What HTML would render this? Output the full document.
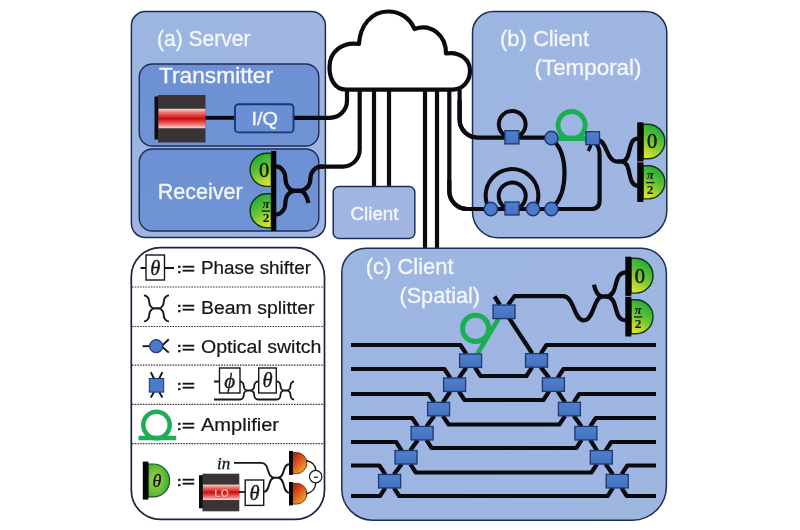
<!DOCTYPE html>
<html lang="en"><head><meta charset="utf-8"><title>Quantum network diagram</title>
<style>
html,body{margin:0;padding:0;background:#fff;}
body{width:800px;height:530px;overflow:hidden;}
svg{display:block;font-family:"Liberation Sans",sans-serif;filter:opacity(1);}
</style></head><body>
<svg width="800" height="530" viewBox="0 0 800 530">
<rect width="800" height="530" fill="#fff"/>
<defs>
<linearGradient id="gbox" x1="0" y1="0" x2="1" y2="1">
<stop offset="0" stop-color="#9db5e1"/><stop offset="1" stop-color="#9fb6e1"/></linearGradient>
<linearGradient id="gin" x1="0" y1="0" x2="0" y2="1">
<stop offset="0" stop-color="#6c90d3"/><stop offset="1" stop-color="#6f93d4"/></linearGradient>
<linearGradient id="gsq" x1="0" y1="0" x2="0" y2="1">
<stop offset="0" stop-color="#4f80cd"/><stop offset="1" stop-color="#4471c0"/></linearGradient>
<linearGradient id="gdet" x1="0.7" y1="0" x2="0.3" y2="1">
<stop offset="0" stop-color="#16a837"/><stop offset="0.45" stop-color="#5cbf38"/><stop offset="1" stop-color="#dde32a"/></linearGradient>
<linearGradient id="gdetl" x1="0.3" y1="0" x2="0.7" y2="1">
<stop offset="0" stop-color="#16a837"/><stop offset="0.45" stop-color="#5cbf38"/><stop offset="1" stop-color="#dde32a"/></linearGradient>
<radialGradient id="grad" cx="0.35" cy="0.5" r="0.75">
<stop offset="0" stop-color="#a6d23a"/><stop offset="0.5" stop-color="#6cbf3a"/><stop offset="1" stop-color="#1f9e3c"/></radialGradient>
<linearGradient id="gor" x1="0.1" y1="0" x2="0.8" y2="1">
<stop offset="0" stop-color="#b01c10"/><stop offset="0.5" stop-color="#e0601c"/><stop offset="1" stop-color="#f6b236"/></linearGradient>
<linearGradient id="gred" x1="0" y1="0" x2="0" y2="1">
<stop offset="0" stop-color="#f7d9d6"/><stop offset="0.18" stop-color="#ee7b78"/><stop offset="0.5" stop-color="#cf0c0c"/><stop offset="0.82" stop-color="#ee7b78"/><stop offset="1" stop-color="#f7d9d6"/></linearGradient>
</defs>
<path d="M374 88 V187" fill="none" stroke="#0a0a10" stroke-width="4.2" stroke-linejoin="round" />
<path d="M389 88 V187" fill="none" stroke="#0a0a10" stroke-width="4.2" stroke-linejoin="round" />
<path d="M425 88 V249" fill="none" stroke="#0a0a10" stroke-width="4.2" stroke-linejoin="round" />
<path d="M437 88 V249" fill="none" stroke="#0a0a10" stroke-width="4.2" stroke-linejoin="round" />
<path d="M449.3 88 V191 A18 18 0 0 0 467.3 209 H486" fill="none" stroke="#0a0a10" stroke-width="4.2" stroke-linejoin="round" />
<path d="M459.6 88 V119.6 A18 18 0 0 0 477.6 137.6 H505" fill="none" stroke="#0a0a10" stroke-width="4.2" stroke-linejoin="round" />
<rect x="131.4" y="11.5" width="194" height="226" rx="14" fill="url(#gbox)" stroke="#1d2d55" stroke-width="1.5"/>
<rect x="139.3" y="64" width="179.5" height="82" rx="13" fill="url(#gin)" stroke="#1d2d55" stroke-width="1.4"/>
<rect x="139.3" y="149" width="179.5" height="82" rx="13" fill="url(#gin)" stroke="#1d2d55" stroke-width="1.4"/>
<text x="157" y="46.2" font-size="22" fill="#f3f6fd" stroke="#f3f6fd" stroke-width="0.35" textLength="93.5" lengthAdjust="spacingAndGlyphs" >(a) Server</text>
<text x="159" y="82.5" font-size="22" fill="#f3f6fd" stroke="#f3f6fd" stroke-width="0.35" textLength="114" lengthAdjust="spacingAndGlyphs" >Transmitter</text>
<text x="157.7" y="199" font-size="22" fill="#f3f6fd" stroke="#f3f6fd" stroke-width="0.35" textLength="85" lengthAdjust="spacingAndGlyphs" >Receiver</text>
<rect x="154.5" y="96.5" width="5" height="43.0" fill="#0d0d12"/>
<rect x="158.0" y="95" width="47.5" height="47.5" fill="#3a3436"/>
<rect x="158.5" y="108.78" width="47" height="19.47" fill="url(#gred)"/>
<path d="M205.5 117.8 H235" fill="none" stroke="#0a0a10" stroke-width="3.9" stroke-linejoin="round" />
<path d="M347 88 V100.8 A17 17 0 0 1 330 117.8 H294" fill="none" stroke="#0a0a10" stroke-width="4.2" stroke-linejoin="round" />
<path d="M359.7 88 V149.6 A17 17 0 0 1 342.7 166.6 H320" fill="none" stroke="#0a0a10" stroke-width="4.2" stroke-linejoin="round" />
<rect x="235" y="104.2" width="58.5" height="28.2" rx="3.5" fill="#6a8fd5" stroke="#1b3776" stroke-width="1.9"/>
<text x="251.5" y="125" font-size="17.6" fill="#f3f6fd" stroke="#f3f6fd" stroke-width="0.35" textLength="26.5" lengthAdjust="spacingAndGlyphs" >I/Q</text>
<path d="M276 166.4 A9.40 12.20 0 0 1 285.40 178.60 A9.40 12.20 0 0 0 294.8 190.8 H299.8 A10.60 12.10 0 0 0 310.40 178.70 A10.60 12.10 0 0 1 321 166.6 H324" fill="none" stroke="#0a0a10" stroke-width="4.2" stroke-linejoin="round" />
<path d="M276 214.5 A9.40 11.85 0 0 0 285.40 202.65 A9.40 11.85 0 0 1 294.8 190.8 H299.8 C305 190.8 307 196.5 308.5 203" fill="none" stroke="#0a0a10" stroke-width="4.2" stroke-linejoin="round" />
<path d="M271.40000000000003 153.2 h-4.70 a16.60 16.60 0 0 0 0 33.20 H271.40000000000003 Z" fill="url(#gdetl)" stroke="#0f3812" stroke-width="1.4"/>
<text x="264.2" y="176.8" font-family="'Liberation Serif', serif" font-size="20.5" fill="#141a06" stroke="#141a06" stroke-width="0.5" text-anchor="middle">0</text>
<path d="M271.40000000000003 193.8 h-4.35 a16.95 16.95 0 0 0 0 33.90 H271.40000000000003 Z" fill="url(#gdetl)" stroke="#0f3812" stroke-width="1.4"/>
<text x="266.0" y="207.6" font-family="'Liberation Serif', serif" font-size="13" font-style="italic" font-weight="bold" fill="#141a06" text-anchor="middle">π</text>
<line x1="261.8" x2="270.2" y1="211.1" y2="211.1" stroke="#141a06" stroke-width="1.3"/>
<text x="266.0" y="222.3" font-family="'Liberation Serif', serif" font-size="13.5" font-weight="bold" fill="#141a06" text-anchor="middle">2</text>
<rect x="271.1" y="151" width="5.20" height="80.00" fill="#050505"/>
<rect x="333.2" y="186.6" width="81.6" height="51.8" rx="5.5" fill="#a0b5e2" stroke="#1d2d55" stroke-width="1.5"/>
<text x="350.5" y="219.5" font-size="18.3" fill="#f3f6fd" stroke="#f3f6fd" stroke-width="0.35" textLength="48" lengthAdjust="spacingAndGlyphs" >Client</text>
<path d="M493.5 11.5 H645.8 A21 21 0 0 1 666.8 32.5 V210.8 A27 27 0 0 1 639.8 237.8 H498.5 A26 26 0 0 1 472.5 211.8 V32.5 A21 21 0 0 1 493.5 11.5 Z" fill="url(#gbox)" stroke="#1d2d55" stroke-width="1.5"/>
<text x="500" y="45.5" font-size="22" fill="#f3f6fd" stroke="#f3f6fd" stroke-width="0.35" textLength="89" lengthAdjust="spacingAndGlyphs" >(b) Client</text>
<text x="534.5" y="74.8" font-size="22" fill="#f3f6fd" stroke="#f3f6fd" stroke-width="0.35" textLength="107" lengthAdjust="spacingAndGlyphs" >(Temporal)</text>
<path d="M459.6 100 V119.6 A18 18 0 0 0 477.6 137.6 H551" fill="none" stroke="#0a0a10" stroke-width="4.2" stroke-linejoin="round" />
<path d="M449.3 180 V191 A18 18 0 0 0 467.3 209 H591 Q599.6 209 599.6 200.5 V155 Q599.6 147 595.5 143.5" fill="none" stroke="#0a0a10" stroke-width="4.2" stroke-linejoin="round" />
<circle cx="512.2" cy="124.3" r="13.4" fill="none" stroke="#0a0a10" stroke-width="4"/>
<circle cx="512.2" cy="196" r="13.5" fill="none" stroke="#0a0a10" stroke-width="4"/>
<path d="M489.5 209 A26.3 26.3 0 1 1 534.5 209" fill="none" stroke="#0a0a10" stroke-width="4"/>
<path d="M554 141 C568 155 568 191 554 206" fill="none" stroke="#0a0a10" stroke-width="4.2" stroke-linejoin="round" />
<circle cx="571.6" cy="125.1" r="13.6" fill="none" stroke="#1dad56" stroke-width="4.8"/>
<path d="M557 138.3 H587" stroke="#1dad56" stroke-width="5.4" fill="none"/>
<path d="M598 140 C606.5 140 606.5 161.5 617 161.5 H621 C632.90 161.5 626.10 138.5 638 138.5" fill="none" stroke="#0a0a10" stroke-width="4.2" stroke-linejoin="round" />
<path d="M617 161.5 H621 C632.90 161.5 626.10 185.8 638 185.8" fill="none" stroke="#0a0a10" stroke-width="4.2" stroke-linejoin="round" />
<path d="M591 145 L588.3 151" fill="none" stroke="#0a0a10" stroke-width="3.4" stroke-linejoin="round" />
<rect x="504.90" y="130.70" width="14" height="13.2" fill="url(#gsq)" stroke="#1c3872" stroke-width="1.3"/>
<rect x="505.00" y="202.00" width="14" height="13" fill="url(#gsq)" stroke="#1c3872" stroke-width="1.3"/>
<circle cx="551.4" cy="138" r="6.7" fill="#4a7ac8" stroke="#1c3872" stroke-width="1.4"/>
<circle cx="490.8" cy="209" r="6.7" fill="#4a7ac8" stroke="#1c3872" stroke-width="1.4"/>
<circle cx="533" cy="209" r="6.7" fill="#4a7ac8" stroke="#1c3872" stroke-width="1.4"/>
<circle cx="551.4" cy="209" r="6.7" fill="#4a7ac8" stroke="#1c3872" stroke-width="1.4"/>
<rect x="585.90" y="131.70" width="13.6" height="13" fill="url(#gsq)" stroke="#1c3872" stroke-width="1.3"/>
<path d="M643.1 124.2 h4.55 a17.25 17.25 0 0 1 0 34.50 H643.1 Z" fill="url(#gdet)" stroke="#0f3812" stroke-width="1.4"/>
<text x="652.0" y="148.4" font-family="'Liberation Serif', serif" font-size="20.5" fill="#141a06" stroke="#141a06" stroke-width="0.5" text-anchor="middle">0</text>
<path d="M643.1 165.7 h5.20 a16.60 16.60 0 0 1 0 33.20 H643.1 Z" fill="url(#gdet)" stroke="#0f3812" stroke-width="1.4"/>
<text x="650.2" y="179.1" font-family="'Liberation Serif', serif" font-size="13" font-style="italic" font-weight="bold" fill="#141a06" text-anchor="middle">π</text>
<line x1="646.0" x2="654.4" y1="182.6" y2="182.6" stroke="#141a06" stroke-width="1.3"/>
<text x="650.2" y="193.9" font-family="'Liberation Serif', serif" font-size="13.5" font-weight="bold" fill="#141a06" text-anchor="middle">2</text>
<rect x="637.2" y="122.3" width="6.20" height="79.60" fill="#050505"/>
<rect x="637.2" y="161.50" width="6.20" height="0.8" fill="#b9c3d8"/>
<rect x="131.3" y="247.6" width="193.2" height="271.7" rx="29" fill="#fff" stroke="#1b2540" stroke-width="1.7"/>
<line x1="132" x2="324" y1="287" y2="287" stroke="#3a3a3a" stroke-width="1.1" stroke-dasharray="1.6 1.1"/>
<line x1="132" x2="324" y1="326.5" y2="326.5" stroke="#3a3a3a" stroke-width="1.1" stroke-dasharray="1.6 1.1"/>
<line x1="132" x2="324" y1="365.1" y2="365.1" stroke="#3a3a3a" stroke-width="1.1" stroke-dasharray="1.6 1.1"/>
<line x1="132" x2="324" y1="404.4" y2="404.4" stroke="#3a3a3a" stroke-width="1.1" stroke-dasharray="1.6 1.1"/>
<line x1="132" x2="324" y1="443.6" y2="443.6" stroke="#3a3a3a" stroke-width="1.1" stroke-dasharray="1.6 1.1"/>
<path d="M140.5 268 H146 M164.5 268 H174" fill="none" stroke="#161616" stroke-width="1.8" stroke-linejoin="round" />
<rect x="146" y="255" width="18.5" height="25" fill="#fff" stroke="#161616" stroke-width="1.4"/>
<text x="155.4" y="274.6" font-family="'Liberation Serif', serif" font-style="italic" font-size="20.5" fill="#161616" stroke="#161616" stroke-width="0.35" text-anchor="middle">θ</text>
<text fill="#161616" stroke="#161616"><tspan x="177.1" y="272.6" font-size="13.3" font-weight="bold" stroke-width="0.5">:</tspan><tspan x="182" y="273.6" font-size="15.8" stroke-width="0.7" textLength="12.9" lengthAdjust="spacingAndGlyphs">=</tspan></text>
<text x="201" y="274.2" font-size="18" fill="#161616" stroke="#161616" stroke-width="0.2" textLength="110" lengthAdjust="spacingAndGlyphs" >Phase shifter</text>
<path d="M143.9 295.4 A5.35 6.50 0 0 1 149.25 301.90 A5.35 6.50 0 0 0 154.6 308.4 H158.4 A5.30 6.50 0 0 0 163.70 301.90 A5.30 6.50 0 0 1 169 295.4" fill="none" stroke="#161616" stroke-width="1.9" stroke-linejoin="round" />
<path d="M143.9 321.4 A5.35 6.50 0 0 0 149.25 314.90 A5.35 6.50 0 0 1 154.6 308.4 H158.4 A5.30 6.50 0 0 1 163.70 314.90 A5.30 6.50 0 0 0 169 321.4" fill="none" stroke="#161616" stroke-width="1.9" stroke-linejoin="round" />
<text fill="#161616" stroke="#161616"><tspan x="177.1" y="312.1" font-size="13.3" font-weight="bold" stroke-width="0.5">:</tspan><tspan x="182" y="313.1" font-size="15.8" stroke-width="0.7" textLength="12.9" lengthAdjust="spacingAndGlyphs">=</tspan></text>
<text x="201" y="313.8" font-size="18" fill="#161616" stroke="#161616" stroke-width="0.2" textLength="113.5" lengthAdjust="spacingAndGlyphs" >Beam splitter</text>
<path d="M142.6 346.2 H152" fill="none" stroke="#161616" stroke-width="1.9" stroke-linejoin="round" />
<path d="M168.8 339.2 L161.5 346.2 L168.8 352.6" fill="none" stroke="#161616" stroke-width="1.9" stroke-linejoin="round" />
<circle cx="156.2" cy="346.2" r="6.5" fill="#4a7ac8" stroke="#1c3872" stroke-width="1.2"/>
<text fill="#161616" stroke="#161616"><tspan x="177.1" y="351.9" font-size="13.3" font-weight="bold" stroke-width="0.5">:</tspan><tspan x="182" y="352.9" font-size="15.8" stroke-width="0.7" textLength="12.9" lengthAdjust="spacingAndGlyphs">=</tspan></text>
<text x="201" y="352.7" font-size="18" fill="#161616" stroke="#161616" stroke-width="0.2" textLength="120.5" lengthAdjust="spacingAndGlyphs" >Optical switch</text>
<path d="M150.8 372.3 L154 378.5 M162.4 372.3 L159.2 378.5 M154 392 L150.8 397.5 M159.2 392 L162.4 397.5" fill="none" stroke="#161616" stroke-width="1.9" stroke-linejoin="round" />
<rect x="149.3" y="378.5" width="14.4" height="13.6" fill="#4a7ac8" stroke="#1c3872" stroke-width="1"/>
<text fill="#161616" stroke="#161616"><tspan x="177.1" y="390.1" font-size="13.3" font-weight="bold" stroke-width="0.5">:</tspan><tspan x="182" y="391.1" font-size="15.8" stroke-width="0.7" textLength="12.9" lengthAdjust="spacingAndGlyphs">=</tspan></text>
<path d="M214 381.5 H220 M214 399.5 H240 A3.75 4.50 0 0 0 243.75 395.00 A3.75 4.50 0 0 1 247.5 390.5 H250.5 A3.75 4.50 0 0 0 254.25 386.00 A3.75 4.50 0 0 1 258 381.5 M240 381.5 A3.75 4.50 0 0 1 243.75 386.00 A3.75 4.50 0 0 0 247.5 390.5 H250.5 A3.75 4.50 0 0 1 254.25 395.00 A3.75 4.50 0 0 0 258 399.5 H277 A3.50 4.50 0 0 0 280.50 395.00 A3.50 4.50 0 0 1 284 390.5 H287 A3.50 4.50 0 0 0 290.50 386.00 A3.50 4.50 0 0 1 294 381.5 M277 381.5 A3.50 4.50 0 0 1 280.50 386.00 A3.50 4.50 0 0 0 284 390.5 H287 A3.50 4.50 0 0 1 290.50 395.00 A3.50 4.50 0 0 0 294 399.5" fill="none" stroke="#161616" stroke-width="1.8" stroke-linejoin="round" />
<rect x="219.5" y="368" width="20.5" height="25" fill="#fff" stroke="#161616" stroke-width="1.4"/>
<rect x="258.7" y="368" width="17.6" height="25" fill="#fff" stroke="#161616" stroke-width="1.4"/>
<text x="229.7" y="387.6" font-family="'Liberation Serif', serif" font-style="italic" font-size="21" fill="#161616" stroke="#161616" stroke-width="0.35" text-anchor="middle">ϕ</text>
<text x="267.6" y="387.1" font-family="'Liberation Serif', serif" font-style="italic" font-size="20.5" fill="#161616" stroke="#161616" stroke-width="0.35" text-anchor="middle">θ</text>
<circle cx="156.5" cy="425" r="13.2" fill="none" stroke="#1dad56" stroke-width="4.5"/>
<path d="M138.5 438 H176.2" stroke="#1dad56" stroke-width="4.3" fill="none"/>
<text fill="#161616" stroke="#161616"><tspan x="177.1" y="429.6" font-size="13.3" font-weight="bold" stroke-width="0.5">:</tspan><tspan x="182" y="430.6" font-size="15.8" stroke-width="0.7" textLength="12.9" lengthAdjust="spacingAndGlyphs">=</tspan></text>
<text x="201" y="431.1" font-size="18" fill="#161616" stroke="#161616" stroke-width="0.2" textLength="78" lengthAdjust="spacingAndGlyphs" >Amplifier</text>
<path d="M148 464 h5.2 a16.45 16.45 0 0 1 0 32.9 H148 Z" fill="url(#grad)" stroke="#14531f" stroke-width="1.1"/>
<rect x="142.8" y="461.6" width="5.6" height="38" fill="#050505"/>
<text x="156.8" y="487.2" font-family="'Liberation Serif', serif" font-style="italic" font-size="18" fill="#161616" stroke="#161616" stroke-width="0.35" text-anchor="middle">θ</text>
<text fill="#161616" stroke="#161616"><tspan x="177.1" y="485.6" font-size="13.3" font-weight="bold" stroke-width="0.5">:</tspan><tspan x="182" y="486.6" font-size="15.8" stroke-width="0.7" textLength="12.9" lengthAdjust="spacingAndGlyphs">=</tspan></text>
<rect x="199" y="475.2" width="5" height="33.1" fill="#0d0d12"/>
<rect x="202.5" y="473.7" width="36.8" height="37.6" fill="#3a3436"/>
<rect x="203" y="484.60" width="36.3" height="15.42" fill="url(#gred)"/>
<text x="221.5" y="497.2" font-size="10.8" font-weight="bold" fill="#f4b4ae" stroke="#c01010" stroke-width="0.5" paint-order="stroke" text-anchor="middle" textLength="14.5" lengthAdjust="spacingAndGlyphs">LO</text>
<path d="M239 492 H245" fill="none" stroke="#161616" stroke-width="1.8" stroke-linejoin="round" />
<rect x="245.2" y="480" width="18.5" height="25.4" fill="#fff" stroke="#161616" stroke-width="1.4"/>
<text x="254.6" y="499.6" font-family="'Liberation Serif', serif" font-style="italic" font-size="20.5" fill="#161616" stroke="#161616" stroke-width="0.35" text-anchor="middle">θ</text>
<text x="217" y="468.5" font-family="'Liberation Serif', serif" font-style="italic" font-size="17" fill="#161616" stroke="#161616" stroke-width="0.3">in</text>
<path d="M234 462.9 H261.5 C269.95 462.9 266.05 477.7 274.5 477.7 H278 C285.48 477.7 282.02 464 289.5 464 M263.7 492 C270.72 492 267.48 477.7 274.5 477.7 H278 C285.48 477.7 282.02 492.9 289.5 492.9" fill="none" stroke="#161616" stroke-width="1.9" stroke-linejoin="round" />
<path d="M292.5 452.5 h3.80 a10.60 10.60 0 0 1 0 21.20 H292.5 Z" fill="url(#gor)" stroke="#6a2a10" stroke-width="0.9"/>
<path d="M292.5 483.3 h4.00 a10.40 10.40 0 0 1 0 20.80 H292.5 Z" fill="url(#gor)" stroke="#6a2a10" stroke-width="0.9"/>
<rect x="289" y="450.9" width="3.9" height="24" fill="#050505"/>
<rect x="289" y="482" width="3.9" height="23.4" fill="#050505"/>
<path d="M306 460.5 C311 461.5 315.7 464 315.7 470.5 M306 494 C311 493 315.7 489 315.7 482.8" fill="none" stroke="#161616" stroke-width="1.3" stroke-linejoin="round" />
<circle cx="315.7" cy="476.6" r="6.2" fill="#fff" stroke="#161616" stroke-width="1.2"/>
<path d="M313.8 477.2 H318" fill="none" stroke="#161616" stroke-width="1.2" stroke-linejoin="round" />
<path d="M365.8 248.2 H641.4 A25 25 0 0 1 666.4 273.2 V486.20000000000005 A34 34 0 0 1 632.4 520.2 H372.8 A31 31 0 0 1 341.8 489.20000000000005 V272.2 A24 24 0 0 1 365.8 248.2 Z" fill="url(#gbox)" stroke="#1d2d55" stroke-width="1.5"/>
<text x="365.8" y="274" font-size="22" fill="#f3f6fd" stroke="#f3f6fd" stroke-width="0.35" textLength="87.8" lengthAdjust="spacingAndGlyphs" >(c) Client</text>
<text x="399.5" y="302.8" font-size="22" fill="#f3f6fd" stroke="#f3f6fd" stroke-width="0.35" textLength="80.5" lengthAdjust="spacingAndGlyphs" >(Spatial)</text>
<path d="M351 345 H460.4 L466.3 353.95" fill="none" stroke="#0a0a10" stroke-width="4.2" stroke-linejoin="round" />
<path d="M474.90000000000003 367.45 L480.5 376 H526.4 L532.2 367.15" fill="none" stroke="#0a0a10" stroke-width="4.2" stroke-linejoin="round" />
<path d="M466.3 367.45 L458.90000000000003 377.95" fill="none" stroke="#0a0a10" stroke-width="4.2" stroke-linejoin="round" />
<path d="M351 369 H444.4 L450.3 377.95" fill="none" stroke="#0a0a10" stroke-width="4.2" stroke-linejoin="round" />
<path d="M458.90000000000003 391.45 L464.5 400 H543.4 L549.1 391.35" fill="none" stroke="#0a0a10" stroke-width="4.2" stroke-linejoin="round" />
<path d="M450.3 391.45 L442.90000000000003 402.35" fill="none" stroke="#0a0a10" stroke-width="4.2" stroke-linejoin="round" />
<path d="M351 394 H428.8 L434.3 402.35" fill="none" stroke="#0a0a10" stroke-width="4.2" stroke-linejoin="round" />
<path d="M442.90000000000003 415.85 L448.6 424.5 H559.4 L565.1 415.85" fill="none" stroke="#0a0a10" stroke-width="4.2" stroke-linejoin="round" />
<path d="M434.3 415.85 L426.40000000000003 426.45" fill="none" stroke="#0a0a10" stroke-width="4.2" stroke-linejoin="round" />
<path d="M351 418 H412.2 L417.8 426.45" fill="none" stroke="#0a0a10" stroke-width="4.2" stroke-linejoin="round" />
<path d="M426.40000000000003 439.95 L431.7 448 H576.3 L581.6 439.95" fill="none" stroke="#0a0a10" stroke-width="4.2" stroke-linejoin="round" />
<path d="M417.8 439.95 L410.3 450.55" fill="none" stroke="#0a0a10" stroke-width="4.2" stroke-linejoin="round" />
<path d="M351 442 H396.1 L401.7 450.55" fill="none" stroke="#0a0a10" stroke-width="4.2" stroke-linejoin="round" />
<path d="M410.3 464.05 L415.9 472.5 H591.4 L597.0 464.05" fill="none" stroke="#0a0a10" stroke-width="4.2" stroke-linejoin="round" />
<path d="M401.7 464.05 L393.90000000000003 474.45" fill="none" stroke="#0a0a10" stroke-width="4.2" stroke-linejoin="round" />
<path d="M351 465.5 H379.4 L385.3 474.45" fill="none" stroke="#0a0a10" stroke-width="4.2" stroke-linejoin="round" />
<path d="M393.90000000000003 487.95 L399.2 496 H607.6 L612.9000000000001 487.95" fill="none" stroke="#0a0a10" stroke-width="4.2" stroke-linejoin="round" />
<path d="M385.3 487.95 L380.0 496 H351" fill="none" stroke="#0a0a10" stroke-width="4.2" stroke-linejoin="round" />
<path d="M540.8 353.65 L546.5 345 H656" fill="none" stroke="#0a0a10" stroke-width="4.2" stroke-linejoin="round" />
<path d="M540.8 367.15 L549.1 377.85" fill="none" stroke="#0a0a10" stroke-width="4.2" stroke-linejoin="round" />
<path d="M557.6999999999999 377.85 L563.5 369 H656" fill="none" stroke="#0a0a10" stroke-width="4.2" stroke-linejoin="round" />
<path d="M557.6999999999999 391.35 L565.1 402.35" fill="none" stroke="#0a0a10" stroke-width="4.2" stroke-linejoin="round" />
<path d="M573.6999999999999 402.35 L579.2 394 H656" fill="none" stroke="#0a0a10" stroke-width="4.2" stroke-linejoin="round" />
<path d="M573.6999999999999 415.85 L581.6 426.45" fill="none" stroke="#0a0a10" stroke-width="4.2" stroke-linejoin="round" />
<path d="M590.1999999999999 426.45 L595.8 418 H656" fill="none" stroke="#0a0a10" stroke-width="4.2" stroke-linejoin="round" />
<path d="M590.1999999999999 439.95 L597.0 450.55" fill="none" stroke="#0a0a10" stroke-width="4.2" stroke-linejoin="round" />
<path d="M605.5999999999999 450.55 L611.2 442 H656" fill="none" stroke="#0a0a10" stroke-width="4.2" stroke-linejoin="round" />
<path d="M605.5999999999999 464.05 L612.9000000000001 474.45" fill="none" stroke="#0a0a10" stroke-width="4.2" stroke-linejoin="round" />
<path d="M621.5 474.45 L627.4 465.5 H656" fill="none" stroke="#0a0a10" stroke-width="4.2" stroke-linejoin="round" />
<path d="M621.5 487.95 L626.8 496 H656" fill="none" stroke="#0a0a10" stroke-width="4.2" stroke-linejoin="round" />
<path d="M499 318 L477.5 353.5" fill="none" stroke="#1dad56" stroke-width="4.5" stroke-linejoin="round" stroke-linecap="butt"/>
<circle cx="475.6" cy="328.4" r="13.1" fill="none" stroke="#1dad56" stroke-width="5"/>
<path d="M509 318 L532.3 353.5" fill="none" stroke="#0a0a10" stroke-width="4.2" stroke-linejoin="round" />
<path d="M494.5 296.5 L500 305" fill="none" stroke="#0a0a10" stroke-width="4.2" stroke-linejoin="round" />
<path d="M508 305 L514.5 296.2 H563 C574.5 296.2 573.5 320.4 583.8 320.4 C594 320.4 593.5 296.5 602.5 296.5 H605.5 C619.85 296.5 611.65 272.4 626 272.4" fill="none" stroke="#0a0a10" stroke-width="4.2" stroke-linejoin="round" />
<path d="M594 284.6 C595 291 598.5 296.5 602.5 296.5 H605.5 C619.85 296.5 611.65 320.3 626 320.3" fill="none" stroke="#0a0a10" stroke-width="4.2" stroke-linejoin="round" />
<rect x="493.00" y="305.00" width="22" height="13.6" fill="url(#gsq)" stroke="#1c3872" stroke-width="1.3"/>
<rect x="459.60" y="353.95" width="22" height="13.5" fill="url(#gsq)" stroke="#1c3872" stroke-width="1.3"/>
<rect x="443.60" y="377.95" width="22" height="13.5" fill="url(#gsq)" stroke="#1c3872" stroke-width="1.3"/>
<rect x="427.60" y="402.35" width="22" height="13.5" fill="url(#gsq)" stroke="#1c3872" stroke-width="1.3"/>
<rect x="411.10" y="426.45" width="22" height="13.5" fill="url(#gsq)" stroke="#1c3872" stroke-width="1.3"/>
<rect x="395.00" y="450.55" width="22" height="13.5" fill="url(#gsq)" stroke="#1c3872" stroke-width="1.3"/>
<rect x="378.60" y="474.45" width="22" height="13.5" fill="url(#gsq)" stroke="#1c3872" stroke-width="1.3"/>
<rect x="525.50" y="353.65" width="22" height="13.5" fill="url(#gsq)" stroke="#1c3872" stroke-width="1.3"/>
<rect x="542.40" y="377.85" width="22" height="13.5" fill="url(#gsq)" stroke="#1c3872" stroke-width="1.3"/>
<rect x="558.40" y="402.35" width="22" height="13.5" fill="url(#gsq)" stroke="#1c3872" stroke-width="1.3"/>
<rect x="574.90" y="426.45" width="22" height="13.5" fill="url(#gsq)" stroke="#1c3872" stroke-width="1.3"/>
<rect x="590.30" y="450.55" width="22" height="13.5" fill="url(#gsq)" stroke="#1c3872" stroke-width="1.3"/>
<rect x="606.20" y="474.45" width="22" height="13.5" fill="url(#gsq)" stroke="#1c3872" stroke-width="1.3"/>
<path d="M631.0 258.2 h4.55 a17.45 17.45 0 0 1 0 34.90 H631.0 Z" fill="url(#gdet)" stroke="#0f3812" stroke-width="1.4"/>
<text x="639.9" y="282.6" font-family="'Liberation Serif', serif" font-size="20.5" fill="#141a06" stroke="#141a06" stroke-width="0.5" text-anchor="middle">0</text>
<path d="M631.0 299.7 h5.00 a17.00 17.00 0 0 1 0 34.00 H631.0 Z" fill="url(#gdet)" stroke="#0f3812" stroke-width="1.4"/>
<text x="638.1" y="313.5" font-family="'Liberation Serif', serif" font-size="13" font-style="italic" font-weight="bold" fill="#141a06" text-anchor="middle">π</text>
<line x1="633.9" x2="642.3" y1="317.0" y2="317.0" stroke="#141a06" stroke-width="1.3"/>
<text x="638.1" y="328.3" font-family="'Liberation Serif', serif" font-size="13.5" font-weight="bold" fill="#141a06" text-anchor="middle">2</text>
<rect x="625.3" y="256.7" width="6.00" height="79.80" fill="#050505"/>
<rect x="625.3" y="295.90" width="6.00" height="0.8" fill="#b9c3d8"/>
<path d="M346 89.6 C334 89.6 329.5 78 329.5 67 C329.5 52 342 41.5 359 44 C360 26 371 11.5 388 11.5 C400 11.5 410 18 414.5 29 C432 23 446 36 446 53.5 C460 51 470 60 470 70.5 C470 81 463 89.6 453 89.6 Z" fill="#fff" stroke="#0a0a10" stroke-width="4.2" stroke-linejoin="round"/>
</svg>
</body></html>
